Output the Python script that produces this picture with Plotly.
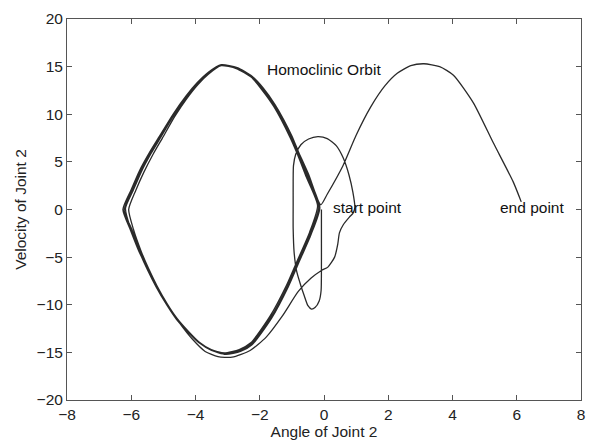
import plotly.graph_objects as go

# Phase portrait of joint 2: angle (rad) vs. angular velocity (rad/s)

# Departure from the start point: narrow swing around the upright position
start_angle = [-0.08, -0.08, -0.08, -0.09, -0.15, -0.28, -0.39, -0.50, -0.62, -0.72,
               -0.85, -0.93, -0.96, -0.96, -0.96, -0.95, -0.88, -0.72, -0.48, -0.19,
               0.10, 0.38, 0.60, 0.78, 0.90, 0.96, 0.90, 0.79, 0.60, 0.48,
               0.43, 0.33, 0.12, -0.08]
start_vel = [0.0, -3.0, -6.4, -8.5, -9.6, -10.3, -10.45, -10.1, -9.0, -8.0,
             -6.5, -4.5, -2.0, 0.5, 3.0, 4.6, 5.8, 6.8, 7.4, 7.65,
             7.45, 6.7, 5.4, 3.6, 1.8, 0.2, -0.4, -0.8, -1.6, -2.45,
             -3.6, -5.0, -6.05, -6.4]

# Entry onto the homoclinic orbit (lower branch, slightly outside it)
entry_angle = [-0.40, -0.80, -1.30, -1.80, -2.30, -2.86, -3.30, -3.70, -4.10, -4.50,
               -4.90, -5.23, -5.50, -5.76, -6.02, -6.26]
entry_vel = [-7.2, -8.6, -11.2, -13.4, -14.8, -15.5, -15.45, -14.9, -13.6, -11.9,
             -9.9, -8.0, -6.2, -4.4, -2.2, 0.0]

# Repeated circuits along the homoclinic orbit (upper then lower branch)
orbit_angle = [
    # circuit 1
    -6.00, -5.74, -5.43, -5.12, -4.70, -4.30, -3.95, -3.60, -3.20, -2.70,
    -2.24, -1.90, -1.52, -1.01, -0.80, -0.50, -0.13,
    -0.40, -0.80, -1.11, -1.63, -2.24, -2.60, -3.06, -3.50, -3.89, -4.20,
    -4.60, -4.90, -5.23, -5.50, -5.74, -6.00, -6.18,
    # circuit 2
    -5.94, -5.68, -5.38, -5.08, -4.67, -4.28, -3.94, -3.60, -3.20, -2.71,
    -2.26, -1.92, -1.54, -1.04, -0.82, -0.52, -0.16,
    -0.42, -0.82, -1.13, -1.65, -2.26, -2.62, -3.08, -3.51, -3.89, -4.19,
    -4.58, -4.88, -5.20, -5.46, -5.69, -5.93, -6.08,
    # circuit 3
    -5.86, -5.61, -5.32, -5.03, -4.64, -4.26, -3.93, -3.60, -3.21, -2.73,
    -2.27, -1.94, -1.56, -1.06, -0.84, -0.55, -0.20,
    -0.45, -0.85, -1.16, -1.68, -2.28, -2.64, -3.10, -3.53, -3.91, -4.21,
    -4.60, -4.90, -5.22, -5.49, -5.72, -5.98, -6.22,
    # circuit 4
    -5.97, -5.71, -5.41, -5.10, -4.69, -4.29, -3.94, -3.60, -3.20, -2.71,
    -2.25, -1.91, -1.53, -1.02, -0.80, -0.48, -0.10,
]
orbit_vel = [
    # circuit 1
    2.1, 4.1, 6.0, 7.7, 10.0, 11.9, 13.3, 14.4, 15.2, 14.9,
    14.0, 12.8, 11.0, 7.8, 6.1, 3.6, 0.2,
    -2.6, -5.7, -8.1, -11.4, -14.2, -14.9, -15.2, -14.8, -14.0, -13.0,
    -11.5, -10.0, -8.1, -6.3, -4.5, -2.2, 0.1,
    # circuit 2
    2.0, 4.0, 5.9, 7.6, 9.9, 11.8, 13.2, 14.3, 15.1, 14.8,
    13.9, 12.7, 10.9, 7.7, 6.0, 3.5, 0.3,
    -2.5, -5.6, -8.0, -11.3, -14.1, -14.8, -15.1, -14.7, -13.9, -12.9,
    -11.4, -9.9, -8.0, -6.2, -4.4, -2.1, 0.0,
    # circuit 3
    2.0, 3.9, 5.8, 7.5, 9.8, 11.7, 13.1, 14.2, 15.1, 14.8,
    13.9, 12.6, 10.8, 7.6, 5.9, 3.4, 0.4,
    -2.4, -5.5, -7.9, -11.2, -14.0, -14.7, -15.05, -14.7, -13.9, -12.9,
    -11.4, -9.9, -8.0, -6.2, -4.4, -2.1, -0.1,
    # circuit 4
    2.1, 4.1, 6.0, 7.7, 10.0, 11.9, 13.3, 14.4, 15.2, 14.9,
    14.0, 12.8, 11.0, 7.8, 6.1, 3.7, 0.5,
]

# Final swing over the top towards the end point
exit_angle = [0.10, 0.59, 1.00, 1.46, 1.90, 2.28, 2.70, 3.11, 3.60, 4.03,
              4.65, 5.27, 5.89, 6.14]
exit_vel = [1.6, 4.6, 7.8, 10.8, 13.0, 14.3, 15.1, 15.3, 15.0, 14.1,
            11.2, 7.0, 2.9, 0.8]

angle = start_angle + entry_angle + orbit_angle + exit_angle
velocity = start_vel + entry_vel + orbit_vel + exit_vel

x_ticks = [-8, -6, -4, -2, 0, 2, 4, 6, 8]
y_ticks = [-20, -15, -10, -5, 0, 5, 10, 15, 20]

labels = [
    ("Homoclinic Orbit", -1.83, 14.7),
    ("start point", 0.23, 0.2),
    ("end point", 5.43, 0.2),
]

font_family = "Liberation Sans, Arial, sans-serif"
font_size = 15.5

fig = go.Figure()
fig.add_trace(go.Scatter(
    x=angle, y=velocity, mode="lines",
    line=dict(color="#2a2a2a", width=1.3, shape="spline", smoothing=0.6),
    showlegend=False, hoverinfo="skip",
))

for text, lx, ly in labels:
    fig.add_annotation(
        x=lx, y=ly, text=text, showarrow=False,
        xanchor="left", yanchor="middle",
        font=dict(family=font_family, size=font_size, color="#111"),
    )

axis_common = dict(
    showline=True, linecolor="#555", linewidth=1, mirror="ticks",
    ticks="inside", ticklen=5, tickcolor="#555", tickwidth=1,
    showgrid=False, zeroline=False,
    tickfont=dict(family=font_family, size=font_size, color="#222"),
)

fig.update_xaxes(
    range=[-8, 8], tickvals=x_ticks,
    title=dict(text="Angle of Joint 2", standoff=0,
               font=dict(family=font_family, size=font_size, color="#222")),
    **axis_common,
)
fig.update_yaxes(
    range=[-20, 20], tickvals=y_ticks,
    title=dict(text="Velocity of Joint 2", standoff=6,
               font=dict(family=font_family, size=font_size, color="#222")),
    **axis_common,
)

fig.update_layout(
    width=595, height=443,
    margin=dict(l=67, r=10, t=15, b=41),
    paper_bgcolor="white", plot_bgcolor="white",
)

fig.write_html("out.html")
